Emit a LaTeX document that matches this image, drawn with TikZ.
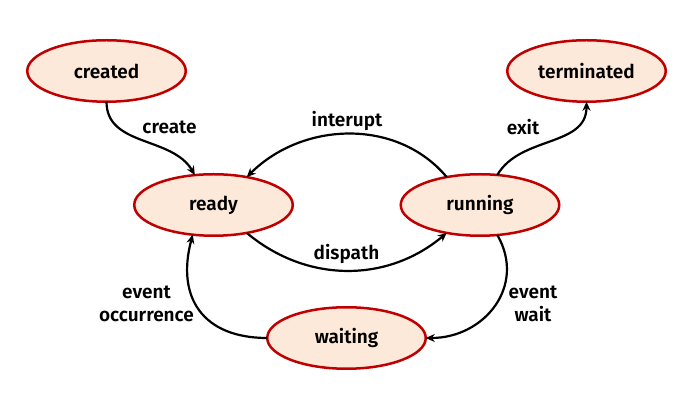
\documentclass[tikz,border=0pt]{standalone}
\usepackage{fontspec}
\setmainfont{Fira Sans}[BoldFont={* SemiBold}]
\usepackage{xcolor}
\usetikzlibrary{arrows.meta,positioning,shapes.geometric}

\definecolor{statefill}{RGB}{253,233,217}
\definecolor{stateline}{RGB}{192,0,0}

\begin{document}
\begin{tikzpicture}[
  x=1pt, y=1pt,
  state/.style={ellipse, draw=stateline, fill=statefill, line width=2.5pt, minimum width=158.5pt, minimum height=61.5pt, inner sep=0pt, outer sep=0pt, font=\fontsize{19}{23}\selectfont\bfseries},
  trans/.style={-{Stealth[length=9pt,width=8pt]}, line width=2.2pt},
  tag/.style={font=\fontsize{19}{23}\selectfont\bfseries, align=center, inner sep=0pt},
]
\useasboundingbox (0,0) rectangle (690,401);

% States
\node[state] (ready) at (213.5,196) {ready};
\node[state, right=108pt of ready] (running) {running};
\node[state, above=72.5pt of ready, xshift=-107pt] (created) {created};
\node[state, above=72.5pt of running, xshift=106.5pt] (terminated) {terminated};
\node[state, below=71.5pt of ready, xshift=133pt] (waiting) {waiting};

% Transitions
\draw[trans] (created.south) to[out=-90,in=120] (ready.122);
\draw[trans] (running.140) to[out=130,in=45] (ready.40);
\draw[trans] (running.60) to[out=60,in=-90] (terminated.south);
\draw[trans] (ready.-40) to[out=-40,in=-140] (running.-140);
\draw[trans] (running.-60) to[out=-60,in=0,looseness=1.2] (waiting.east);
\draw[trans] (waiting.west) to[out=180,in=-105,looseness=1.3] (ready.-125);

% Transition labels
\node[tag] (create) at (169.5,274) {create};
\node[tag] (interupt) at (347,280) {interupt};
\node[tag] (exit) at (523,274) {exit};
\node[tag] (dispath) at (346.5,147) {dispath};
\node[tag] (occur) at (146.5,97.5) {event\\occurrence};
\node[tag] (wait) at (533,97.5) {event\\wait};

\end{tikzpicture}
\end{document}
